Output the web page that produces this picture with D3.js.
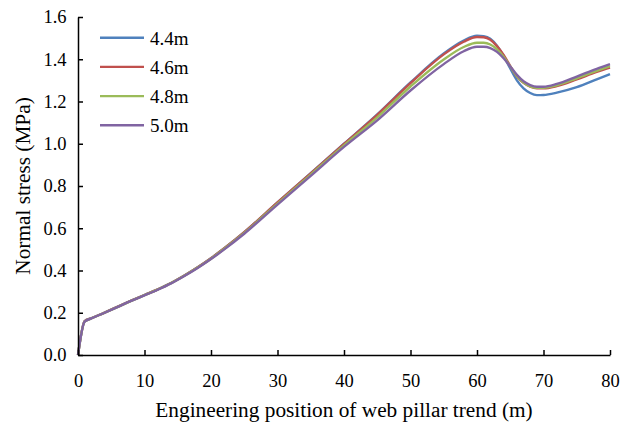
<!DOCTYPE html>
<html>
<head>
<meta charset="utf-8">
<script src="https://cdn.jsdelivr.net/npm/d3@7"></script>
<style>
  html, body { margin: 0; padding: 0; background: #fff; }
  svg { display: block; }
</style>
</head>
<body>
<svg id="chart" width="629" height="432"></svg>
<script>
// Position along the web pillar trend (m)
const positions = [0, 1, 2, 4, 6, 8, 10, 12, 14, 16, 18, 20, 22, 25, 30, 35, 40, 45, 50, 55, 58, 60, 61, 62, 63, 64, 65, 66, 67, 68, 69, 70, 72, 75, 78, 80];

// Normal stress (MPa) for each pillar width
const stress44 = [0, 0.16, 0.174, 0.201, 0.229, 0.257, 0.284, 0.311, 0.341, 0.376, 0.415, 0.458, 0.505, 0.581, 0.722, 0.861, 1.0, 1.139, 1.29, 1.427, 1.488, 1.511, 1.509, 1.497, 1.464, 1.416, 1.356, 1.3, 1.262, 1.24, 1.23, 1.231, 1.242, 1.268, 1.305, 1.33];
const stress46 = [0, 0.16, 0.174, 0.201, 0.229, 0.257, 0.284, 0.311, 0.341, 0.376, 0.415, 0.458, 0.505, 0.581, 0.722, 0.86, 0.999, 1.137, 1.287, 1.423, 1.483, 1.505, 1.504, 1.492, 1.462, 1.42, 1.368, 1.318, 1.288, 1.27, 1.262, 1.262, 1.273, 1.305, 1.34, 1.36];
const stress48 = [0, 0.158, 0.173, 0.2, 0.228, 0.256, 0.283, 0.31, 0.34, 0.375, 0.414, 0.456, 0.503, 0.578, 0.717, 0.854, 0.992, 1.125, 1.271, 1.399, 1.458, 1.478, 1.478, 1.47, 1.447, 1.412, 1.366, 1.32, 1.29, 1.272, 1.265, 1.265, 1.277, 1.31, 1.345, 1.367];
const stress50 = [0, 0.158, 0.173, 0.2, 0.228, 0.256, 0.282, 0.309, 0.339, 0.374, 0.412, 0.454, 0.5, 0.574, 0.712, 0.848, 0.985, 1.111, 1.252, 1.377, 1.438, 1.459, 1.459, 1.453, 1.435, 1.405, 1.366, 1.326, 1.296, 1.278, 1.27, 1.27, 1.283, 1.318, 1.355, 1.377];

const seriesNames = ["4.4m", "4.6m", "4.8m", "5.0m"];
const seriesColors = ["#4F81BD", "#C0504D", "#9BBB59", "#8064A2"];
const seriesValues = [stress44, stress46, stress48, stress50];

const xTicks = [0, 10, 20, 30, 40, 50, 60, 70, 80];
const yTicks = [0, 0.2, 0.4, 0.6, 0.8, 1.0, 1.2, 1.4, 1.6];

const xTitle = "Engineering position of web pillar trend (m)";
const yTitle = "Normal stress (MPa)";

const FONT = "Liberation Serif";

const svg = d3.select("#chart");
const margin = { left: 78, right: 19, top: 17, bottom: 77 };
const W = 629, H = 432;

const x = d3.scaleLinear().domain([0, 80]).range([margin.left, W - margin.right]);
const y = d3.scaleLinear().domain([0, 1.6]).range([H - margin.bottom, margin.top]);

const line = d3.line()
  .x(d => x(d[0]))
  .y(d => y(d[1]))
  .curve(d3.curveMonotoneX);

// Curves
seriesValues.forEach((vals, i) => {
  const pts = positions.map((p, j) => [p, vals[j]]);
  svg.append("path")
    .datum(pts)
    .attr("fill", "none")
    .attr("stroke", seriesColors[i])
    .attr("stroke-width", 2.4)
    .attr("stroke-linejoin", "round")
    .attr("d", line);
});

// Axes with inward ticks
const xAxis = svg.append("g")
  .attr("transform", `translate(0,${y(0)})`)
  .call(d3.axisBottom(x).tickValues(xTicks).tickFormat(d3.format("d"))
    .tickSizeInner(-5).tickSizeOuter(0).tickPadding(19));

const yAxis = svg.append("g")
  .attr("transform", `translate(${x(0)},0)`)
  .call(d3.axisLeft(y).tickValues(yTicks).tickFormat(d3.format(".1f"))
    .tickSizeInner(-5).tickSizeOuter(0).tickPadding(11.5));

[xAxis, yAxis].forEach(g => {
  g.attr("font-family", FONT).attr("font-size", 18.5);
  g.select(".domain").attr("stroke", "#000").attr("stroke-width", 1.5);
  g.selectAll(".tick line").attr("stroke", "#000").attr("stroke-width", 1.5);
  g.selectAll(".tick text")
    .attr("fill", "#000")
    .attr("font-family", FONT)
    .attr("font-size", 18.5);
});

// Axis titles
svg.append("text")
  .attr("x", (x(0) + x(80)) / 2)
  .attr("y", 417)
  .attr("text-anchor", "middle")
  .attr("font-family", FONT)
  .attr("font-size", 21.3)
  .attr("fill", "#000")
  .text(xTitle);

svg.append("text")
  .attr("transform", `translate(30,${(y(0) + y(1.6)) / 2}) rotate(-90)`)
  .attr("text-anchor", "middle")
  .attr("font-family", FONT)
  .attr("font-size", 21.3)
  .attr("fill", "#000")
  .text(yTitle);

// Legend
const legend = svg.append("g").attr("transform", "translate(100,37.7)");
seriesNames.forEach((name, i) => {
  const g = legend.append("g").attr("transform", `translate(0,${i * 29.2})`);
  g.append("line")
    .attr("x1", 0).attr("x2", 44)
    .attr("y1", 0).attr("y2", 0)
    .attr("stroke", seriesColors[i])
    .attr("stroke-width", 2.4);
  g.append("text")
    .attr("x", 50)
    .attr("y", 7)
    .attr("font-family", FONT)
    .attr("font-size", 19)
    .attr("fill", "#000")
    .text(name);
});
</script>
</body>
</html>
